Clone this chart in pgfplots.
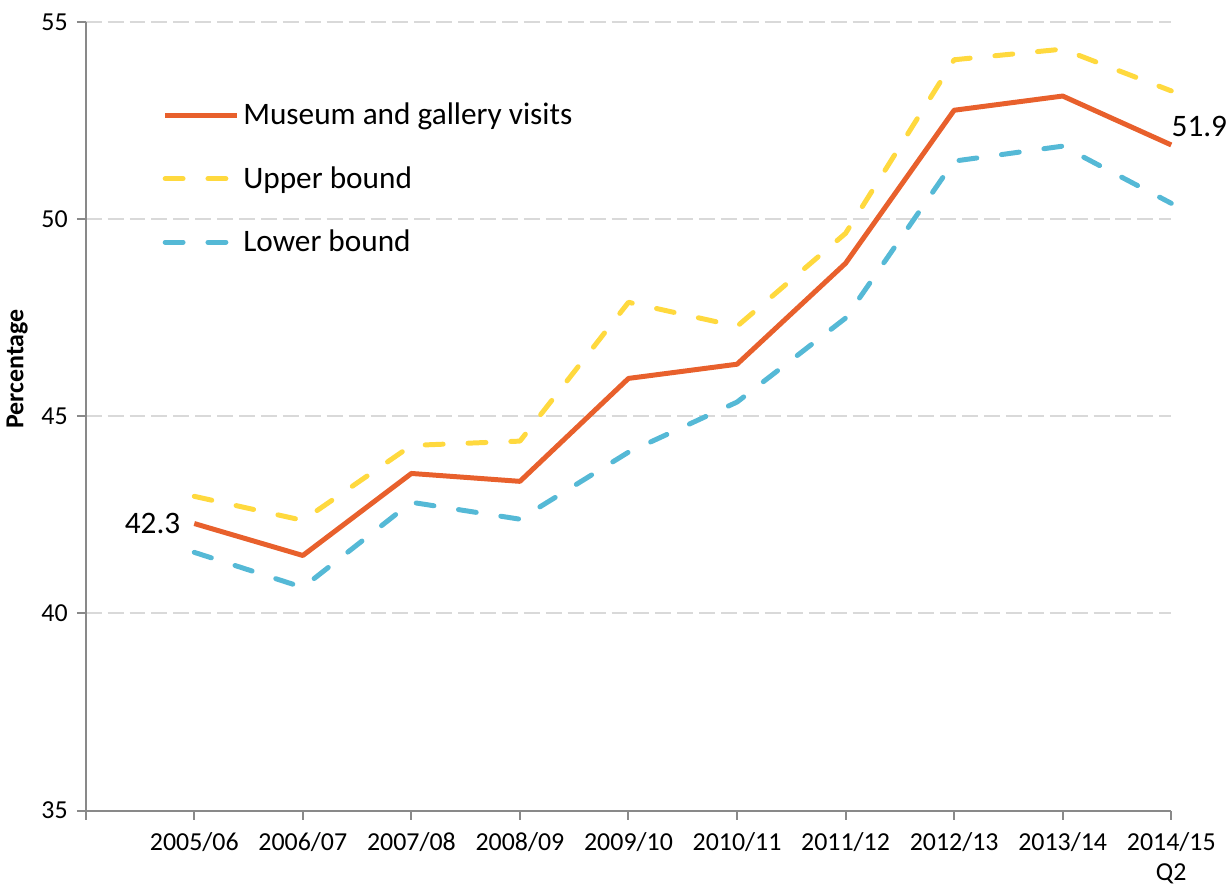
\documentclass[border=0pt]{standalone}
\usepackage{pgfplots}
\pgfplotsset{compat=1.18}
\usepackage{fontspec}
\setmainfont{Carlito}
\definecolor{visits}{HTML}{E8602C}
\definecolor{upper}{HTML}{FFD93E}
\definecolor{lower}{HTML}{55B9D6}
\definecolor{gridgray}{HTML}{D9D9D9}
\definecolor{axisgray}{HTML}{898989}
\begin{document}
\begin{tikzpicture}
\begin{axis}[
scale only axis,
width=545pt,height=396pt,
xmin=-1,xmax=9,
ymin=35,ymax=55,
axis lines=left,
axis line style={-,draw=axisgray,line width=1pt},
xtick={-1,0,1,2,3,4,5,6,7,8,9},
xticklabels={,2005/06,2006/07,2007/08,2008/09,2009/10,2010/11,2011/12,2012/13,2013/14,{2014/15\\Q2}},
x tick label style={align=center,anchor=north,yshift=-3pt},
y tick label style={xshift=-1pt},
ytick={35,40,45,50,55},
tick style={draw=axisgray,line width=1pt},
tick align=outside,
major tick length=4.5pt,
ticklabel style={font=\fontsize{13}{15}\selectfont},
/pgf/number format/assume math mode=true,
ymajorgrids,
y grid style={draw=gridgray,line width=1pt,dash pattern=on 8pt off 3pt},
ylabel={\textbf{Percentage}},
ylabel style={font=\fontsize{13}{15}\selectfont,at={(ticklabel cs:0.56)}},
clip=false,
legend style={at={(rel axis cs:0.065,0.908)},anchor=north west,draw=none,fill=none,
  font=\fontsize{15.7}{18}\selectfont,row sep=15.5pt,cells={anchor=west}},
legend image code/.code={\draw[#1] (0pt,0pt) -- (36pt,0pt);},
]
\addplot[visits,line width=2.5pt,line join=round] coordinates {
(0,42.28) (1,41.47) (2,43.55) (3,43.35) (4,45.96) (5,46.32) (6,48.88) (7,52.76) (8,53.12) (9,51.88)};
\addlegendentry{Museum and gallery visits}
\addplot[upper,line width=2.5pt,line cap=round,line join=round,dash pattern=on 9pt off 12.5pt] coordinates {
(0,42.97) (1,42.36) (2,44.26) (3,44.37) (4,47.89) (5,47.28) (6,49.64) (7,54.04) (8,54.31) (9,53.25)};
\addlegendentry{Upper bound}
\addplot[lower,line width=2.5pt,line cap=round,line join=round,dash pattern=on 9pt off 12.5pt] coordinates {
(0,41.55) (1,40.66) (2,42.82) (3,42.39) (4,44.09) (5,45.36) (6,47.49) (7,51.47) (8,51.85) (9,50.40)};
\addlegendentry{Lower bound}
\node[anchor=east,font=\fontsize{15.7}{18}\selectfont,xshift=-3.5pt] at (axis cs:0,42.28) {42.3};
\node[anchor=south west,inner sep=0pt,font=\fontsize{15.7}{18}\selectfont,yshift=4pt] at (axis cs:9,51.88) {51.9};
\coordinate (tr) at (rel axis cs:1,1);
\end{axis}
\path ([xshift=30pt,yshift=11pt]tr);
\end{tikzpicture}
\end{document}
